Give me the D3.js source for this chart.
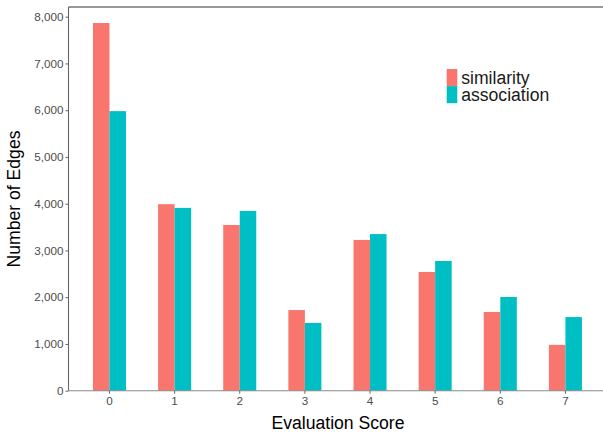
<!DOCTYPE html>
<html><head><meta charset="utf-8">
<script src="https://cdn.jsdelivr.net/npm/d3@7"></script>
<style>body{margin:0;background:#fff;} svg{display:block;font-family:"Liberation Sans",Arial,sans-serif;}</style>
</head><body>
<script>
const categories = ["0","1","2","3","4","5","6","7"];
const seriesNames = ["similarity","association"];
const similarity = [7865, 3990, 3545, 1725, 3225, 2540, 1685, 980];
const association = [5980, 3910, 3845, 1450, 3350, 2775, 2005, 1575];
const yTicks = [0,1000,2000,3000,4000,5000,6000,7000,8000];
const colors = ["#F8766D","#00BFC4"];

const W = 603, H = 435;
const padL = 68.5, padT = 7, baseY = 390.7;
const svg = d3.select("body").append("svg").attr("width", W).attr("height", H);

const x = d3.scaleBand().domain(categories).range([padL, 606.4]).paddingInner(0).paddingOuter(0.129);
const y = d3.scaleLinear().domain([0, 8000]).range([baseY, baseY - 8*46.75]);
const groupW = x.step()*0.507;
const xs = d3.scaleBand().domain(seriesNames).range([-groupW/2, groupW/2]);

const data = categories.map((c,i)=>({cat:c, values:[similarity[i], association[i]]}));

const g = svg.append("g");
data.forEach(d=>{
  const cx = x(d.cat) + x.bandwidth()/2;
  seriesNames.forEach((s,j)=>{
    g.append("rect")
      .attr("x", cx + xs(s)).attr("width", xs.bandwidth())
      .attr("y", y(d.values[j])).attr("height", y(0)-y(d.values[j]))
      .attr("fill", colors[j]);
  });
});

// top border
svg.append("line").attr("x1", padL).attr("x2", W).attr("y1", padT).attr("y2", padT)
  .attr("stroke","#333").attr("stroke-width",1.1);

// y axis
const yAxis = svg.append("g").attr("transform",`translate(${padL},0)`)
  .call(d3.axisLeft(y).tickValues(yTicks).tickFormat(d3.format(",")).tickSize(3).tickPadding(2));
yAxis.select(".domain").attr("d", `M0,${padT}V${baseY}`).attr("stroke","#666").attr("stroke-width",1.1);
yAxis.selectAll(".tick line").attr("stroke","#666");
yAxis.selectAll(".tick text").attr("fill","#4d4d4d").style("font-size","11.7px");

// x axis
const xAxis = svg.append("g").attr("transform",`translate(0,${baseY})`)
  .call(d3.axisBottom(x).tickSize(3).tickPadding(3));
xAxis.select(".domain").attr("d", `M${padL},0H${W}`).attr("stroke","#888").attr("stroke-width",1.1);
xAxis.selectAll(".tick line").attr("stroke","#666");
xAxis.selectAll(".tick text").attr("fill","#4d4d4d").style("font-size","11.7px");

// axis titles
svg.append("text").attr("x", 338).attr("y", 429.3).attr("text-anchor","middle")
  .style("font-size","17.6px").attr("fill","#000").text("Evaluation Score");
svg.append("text").attr("transform","translate(20,199) rotate(-90)").attr("text-anchor","middle")
  .style("font-size","17.6px").attr("fill","#000").text("Number of Edges");

// legend
const lg = svg.append("g").attr("transform","translate(446.7,69)");
seriesNames.forEach((s,j)=>{
  lg.append("rect").attr("x",0).attr("y", j*17.1).attr("width",10.6).attr("height",17.1).attr("fill",colors[j]);
  lg.append("text").attr("x",14.5).attr("y", j*17.1+14.8).style("font-size","17.6px").attr("fill","#1a1a1a").text(s);
});
</script>
</body></html>
